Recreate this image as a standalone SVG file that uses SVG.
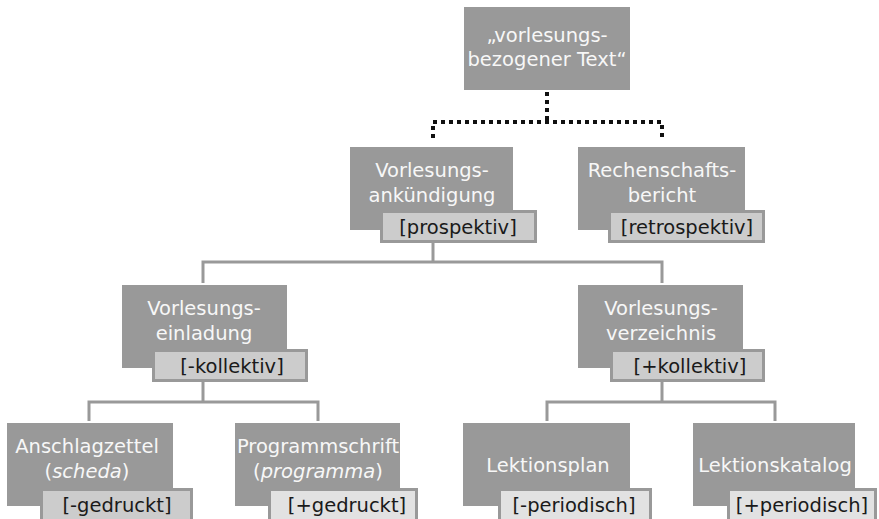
<svg xmlns="http://www.w3.org/2000/svg" width="879" height="519" viewBox="0 0 879 519">
<style>
.box{fill:#999999}
.lab{fill:#cccccc;stroke:#999999;stroke-width:3}
.lab2{fill:#e2e2e2;stroke:#999999;stroke-width:3}
.t{font-family:"DejaVu Sans","Noto Sans",sans-serif;font-size:19.5px;fill:#f7f7f7;text-anchor:middle}
.l{font-family:"DejaVu Sans","Noto Sans",sans-serif;font-size:19.5px;fill:#1a1a1a;text-anchor:middle}
.c{fill:none;stroke:#999999;stroke-width:3}
.d{fill:none;stroke:#111111;stroke-width:4;stroke-dasharray:4 4}
</style>
<rect width="879" height="519" fill="#ffffff"/>
<g id="connectors">
<path class="d" d="M547,92 V122"/>
<path class="d" d="M433,138 V122 H662 V138"/>
<path class="c" d="M433,243 V262"/>
<path class="c" d="M203,283 V262 H662 V283"/>
<path class="c" d="M203,382 V402"/>
<path class="c" d="M89,421 V402 H318 V421"/>
<path class="c" d="M662,382 V402"/>
<path class="c" d="M547,421 V402 H775 V421"/>
</g>
<g id="n0">
<rect class="box" x="464" y="7" width="166" height="83"/>
<text class="t" x="547" y="42">„vorlesungs-<tspan x="547" dy="24">bezogener Text“</tspan></text>
</g>
<g id="n1">
<rect class="box" x="350" y="147" width="163" height="83"/>
<text class="t" x="432" y="177">Vorlesungs-<tspan x="432" dy="25">ankündigung</tspan></text>
<rect class="lab" x="381.5" y="211.5" width="154" height="30"/>
<text class="l" x="458" y="234">[prospektiv]</text>
</g>
<g id="n2">
<rect class="box" x="578" y="147" width="167" height="83"/>
<text class="t" x="662" y="177">Rechenschafts-<tspan x="662" dy="25">bericht</tspan></text>
<rect class="lab" x="609.5" y="211.5" width="154" height="30"/>
<text class="l" x="687" y="234">[retrospektiv]</text>
</g>
<g id="n3">
<rect class="box" x="122" y="285" width="165" height="83"/>
<text class="t" x="204" y="315">Vorlesungs-<tspan x="204" dy="25">einladung</tspan></text>
<rect class="lab" x="153.5" y="350.5" width="153" height="30"/>
<text class="l" x="232" y="373">[-kollektiv]</text>
</g>
<g id="n4">
<rect class="box" x="578" y="285" width="165" height="83"/>
<text class="t" x="661" y="315">Vorlesungs-<tspan x="661" dy="25">verzeichnis</tspan></text>
<rect class="lab" x="611.5" y="350.5" width="152" height="30"/>
<text class="l" x="690" y="373">[+kollektiv]</text>
</g>
<g id="n5">
<rect class="box" x="7" y="423" width="166" height="83"/>
<text class="t" x="87" y="453">Anschlagzettel<tspan x="87" dy="25">(<tspan font-style="italic">scheda</tspan>)</tspan></text>
<rect class="lab" x="41.5" y="489.5" width="150" height="32"/>
<text class="l" x="117" y="512">[-gedruckt]</text>
</g>
<g id="n6">
<rect class="box" x="235" y="423" width="165" height="83"/>
<text class="t" x="318" y="453">Programmschrift<tspan x="318" dy="25">(<tspan font-style="italic">programma</tspan>)</tspan></text>
<rect class="lab2" x="269.5" y="489.5" width="147" height="32"/>
<text class="l" x="347" y="512">[+gedruckt]</text>
</g>
<g id="n7">
<rect class="box" x="463" y="423" width="167" height="83"/>
<text class="t" x="548" y="472">Lektionsplan</text>
<rect class="lab2" x="499.5" y="489.5" width="151" height="32"/>
<text class="l" x="574" y="512">[-periodisch]</text>
</g>
<g id="n8">
<rect class="box" x="693" y="423" width="162" height="83"/>
<text class="t" x="775" y="472">Lektionskatalog</text>
<rect class="lab2" x="728.5" y="489.5" width="147" height="32"/>
<text class="l" x="802" y="512">[+periodisch]</text>
</g>
</svg>
